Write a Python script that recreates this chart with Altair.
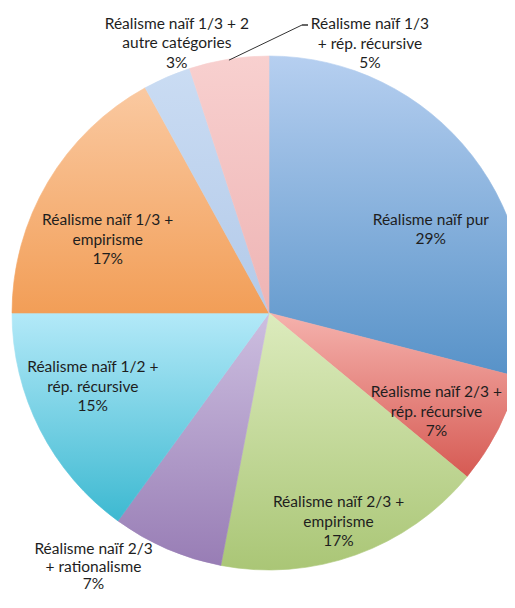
import math
import altair as alt
import pandas as pd

# ---- data ----
categories = [
    "Réalisme naïf pur",
    "Réalisme naïf 2/3 + rép. récursive",
    "Réalisme naïf 2/3 + empirisme",
    "Réalisme naïf 2/3 + rationalisme",
    "Réalisme naïf 1/2 + rép. récursive",
    "Réalisme naïf 1/3 + empirisme",
    "Réalisme naïf 1/3 + 2 autre catégories",
    "Réalisme naïf 1/3 + rép. récursive",
]
values = [29, 7, 17, 7, 15, 17, 3, 5]
label_lines = [
    ["Réalisme naïf pur"],
    ["Réalisme naïf 2/3 +", "rép. récursive"],
    ["Réalisme naïf 2/3 +", "empirisme"],
    ["Réalisme naïf 2/3", "+ rationalisme"],
    ["Réalisme naïf 1/2 +", "rép. récursive"],
    ["Réalisme naïf 1/3 +", "empirisme"],
    ["Réalisme naïf 1/3 + 2", "autre catégories"],
    ["Réalisme naïf 1/3", "+ rép. récursive"],
]

# ---- styling (not data) ----
gradients = [
    ("#b6cff0", "#5792c8"),
    ("#f5b2ad", "#d65a53"),
    ("#dcebbd", "#aac676"),
    ("#cdbfe0", "#987db5"),
    ("#b3e9f8", "#3db9d1"),
    ("#fac9a1", "#f29e57"),
    ("#cadcf3", "#b3cae9"),
    ("#f8d0cf", "#eeb4b4"),
]
# label placement: (radius, dx, dy, line height) relative to the slice's middle angle
label_layout = [
    (182, 18, 28, 19.5),
    (198, -9, 9, 19.5),
    (220, -5, 2, 19.5),
    (321, -48, -41, 17.5),
    (191, -6, -13, 19.5),
    (177, -9, 17, 19.5),
    (285, 21, -8, 19.5),
    (288, 146, 15, 19.5),
]

CX, CY, R = 261, 305, 257
FONT = "Lato"

df = pd.DataFrame({
    "idx": list(range(len(categories))),
    "category": categories,
    "value": values,
    "label": ["\n".join(lines + [f"{v}%"]) for lines, v in zip(label_lines, values)],
})

theta_scale = alt.Scale(domain=[0, 100], range=[0, 2 * math.pi])

base = (
    alt.Chart(df)
    .transform_window(cum="sum(value)", sort=[alt.SortField("idx")])
    .transform_calculate(
        start="datum.cum - datum.value",
        mid="datum.cum - datum.value / 2",
    )
)

layers = []
for i, (top, bottom) in enumerate(gradients):
    grad = alt.LinearGradient(
        gradient="linear",
        stops=[alt.GradientStop(color=top, offset=0), alt.GradientStop(color=bottom, offset=1)],
        x1=0, x2=0, y1=0, y2=1,
    )
    layers.append(
        base.transform_filter(alt.datum.idx == i)
        .mark_arc(outerRadius=R, color=grad, stroke=grad, strokeWidth=0.6)
        .encode(
            theta=alt.Theta("start:Q", scale=theta_scale, stack=False),
            theta2="cum:Q",
            x=alt.value(CX),
            y=alt.value(CY),
        )
    )

for i, (rad, dx, dy, lh) in enumerate(label_layout):
    n_lines = len(label_lines[i]) + 1
    layers.append(
        base.transform_filter(alt.datum.idx == i)
        .mark_text(
            font=FONT, fontSize=15.5, color="#1e1e1e", align="center",
            baseline="middle", lineBreak="\n", lineHeight=lh,
            dx=dx, dy=dy - (n_lines - 1) * lh / 2,
        )
        .encode(
            theta=alt.Theta("mid:Q", scale=theta_scale, stack=False),
            radius=alt.value(rad),
            x=alt.value(CX),
            y=alt.value(CY),
            text="label:N",
        )
    )

# leader line for the 5% slice
leader = (
    base.transform_filter(alt.datum.idx == 7)
    .transform_calculate(
        lx=f"{CX} + {R - 1} * sin(datum.mid / 100 * 2 * PI)",
        ly=f"{CY} - {R - 1} * cos(datum.mid / 100 * 2 * PI)",
    )
    .mark_rule(color="#333333", strokeWidth=1)
    .encode(
        x=alt.X("lx:Q", scale=None),
        y=alt.Y("ly:Q", scale=None),
        x2=alt.value(294),
        y2=alt.value(17),
    )
)
tick = alt.Chart(df).transform_filter(alt.datum.idx == 7).mark_rule(color="#333333", strokeWidth=1.5).encode(
    x=alt.value(294), x2=alt.value(300), y=alt.value(17)
)
layers += [leader, tick]

chart = (
    alt.layer(*layers)
    .properties(width=499, height=590, autosize=alt.AutoSizeParams(type="none"), padding=0)
    .configure(background="white")
    .configure_view(stroke=None)
)

chart.save("out.html", embed_options={"renderer": "svg", "actions": False})
